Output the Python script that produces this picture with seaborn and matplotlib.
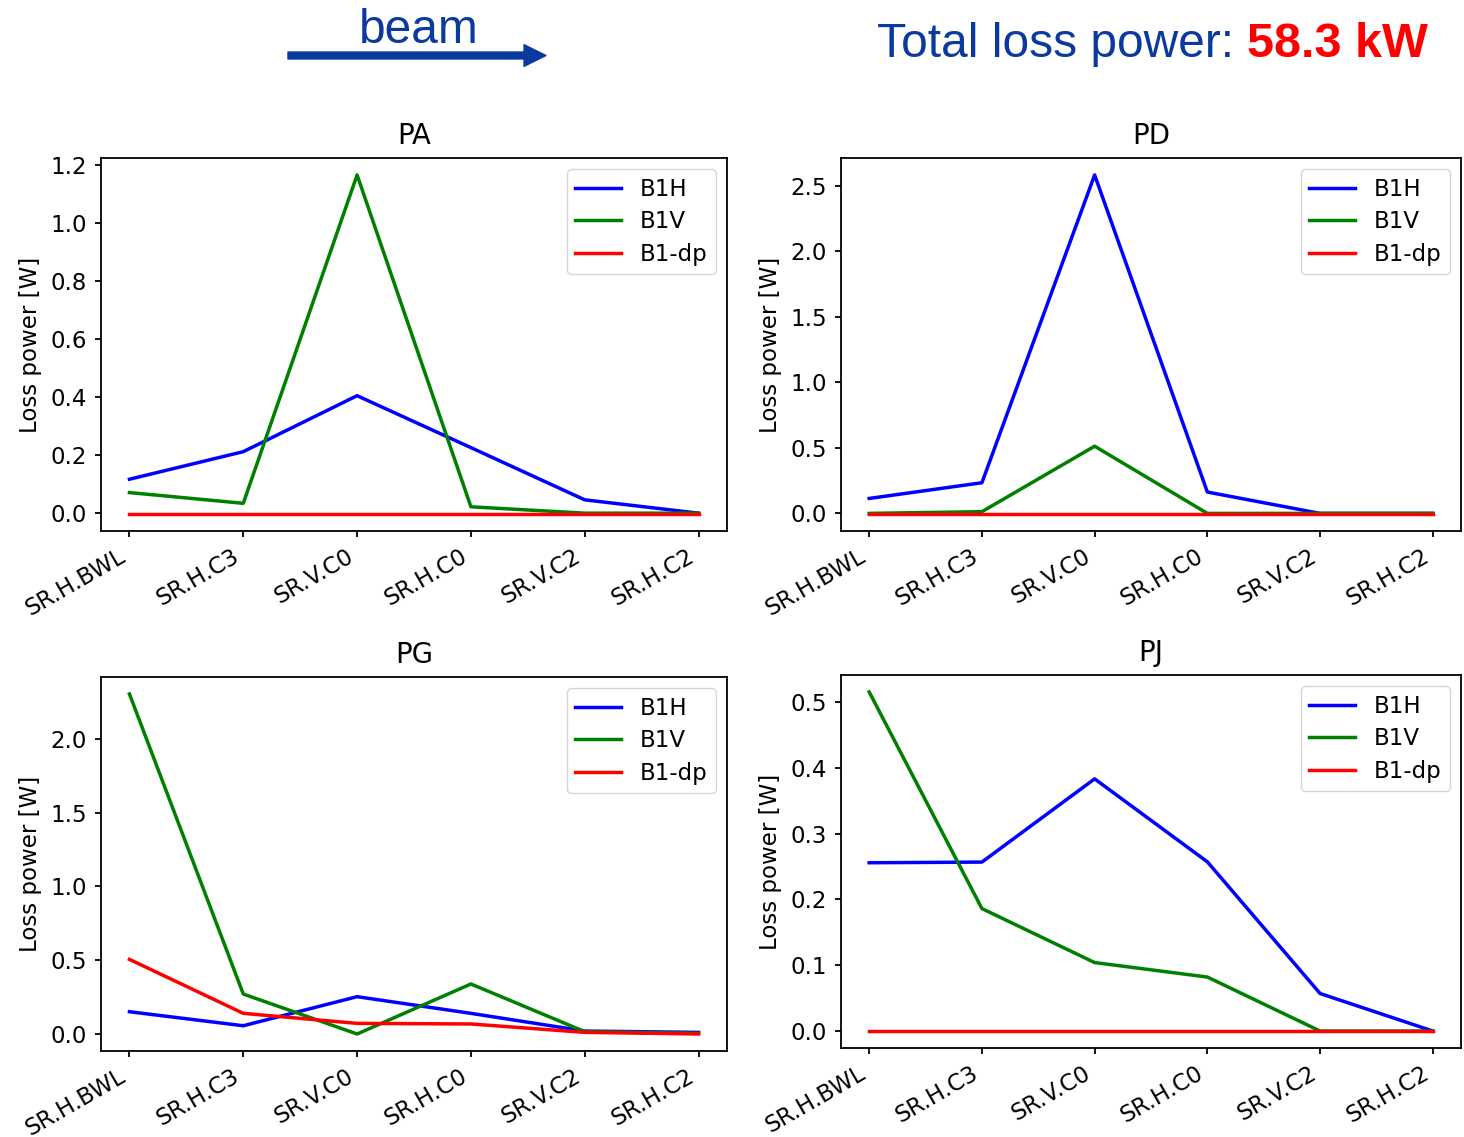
import matplotlib
matplotlib.use("Agg")
import matplotlib.pyplot as plt
from matplotlib.patches import FancyArrowPatch
import seaborn as sns
import pandas as pd

# ---------------- data ----------------
locations = ["SR.H.BWL", "SR.H.C3", "SR.V.C0", "SR.H.C0", "SR.V.C2", "SR.H.C2"]
series_names = ["B1H", "B1V", "B1-dp"]
series_colors = ["blue", "green", "red"]

pa_b1h = [0.117, 0.212, 0.405, 0.226, 0.046, 0.0]
pa_b1v = [0.071, 0.034, 1.166, 0.022, 0.0, 0.0]
pa_b1dp = [-0.003, -0.003, -0.003, -0.003, -0.003, -0.003]

pd_b1h = [0.114, 0.234, 2.584, 0.163, 0.0, 0.0]
pd_b1v = [0.0, 0.013, 0.513, 0.0, 0.0, 0.0]
pd_b1dp = [-0.005, -0.005, -0.005, -0.005, -0.005, -0.005]

pg_b1h = [0.151, 0.056, 0.253, 0.140, 0.020, 0.011]
pg_b1v = [2.305, 0.271, 0.0, 0.339, 0.016, 0.005]
pg_b1dp = [0.506, 0.140, 0.072, 0.068, 0.011, 0.0]

pj_b1h = [0.2556, 0.2566, 0.383, 0.257, 0.057, 0.0]
pj_b1v = [0.515, 0.186, 0.104, 0.082, 0.0, 0.0]
pj_b1dp = [0.0, 0.0, 0.0, 0.0, 0.0, 0.0]

panel_titles = ["PA", "PD", "PG", "PJ"]
panel_values = [
    (pa_b1h, pa_b1v, pa_b1dp),
    (pd_b1h, pd_b1v, pd_b1dp),
    (pg_b1h, pg_b1v, pg_b1dp),
    (pj_b1h, pj_b1v, pj_b1dp),
]

header_left = "beam"
header_right_a = "Total loss power:"
header_right_b = "58.3 kW"
ylabel_text = "Loss power [W]"

# ---------------- style ----------------
W, H = 1464, 1137
plt.rcParams.update({
    "font.size": 16.5,
    "axes.linewidth": 1.3,
    "xtick.major.width": 1.3,
    "ytick.major.width": 1.3,
    "xtick.major.size": 4.5,
    "ytick.major.size": 4.5,
    "xtick.major.pad": 5.5,
    "ytick.major.pad": 5.5,
    "lines.linewidth": 2.5,
})
plt.rcParams["font.family"] = ["DejaVu Sans"]

fig = plt.figure(figsize=(W / 100, H / 100), dpi=100)

def px_axes(l, t, r, b):
    return fig.add_axes([l / W, 1 - b / H, (r - l) / W, (b - t) / H])

boxes = [(101, 158, 727, 531), (841, 158, 1461, 531),
         (101, 677, 727, 1051), (841, 675, 1461, 1048)]

palette = dict(zip(series_names, series_colors))

for (box, title, vals) in zip(boxes, panel_titles, panel_values):
    ax = px_axes(*box)
    rows = []
    for name, v in zip(series_names, vals):
        for loc, y in zip(locations, v):
            rows.append({"loc": loc, "power": y, "series": name})
    df = pd.DataFrame(rows)
    sns.lineplot(data=df, x="loc", y="power", hue="series",
                 hue_order=series_names, palette=palette, sort=False,
                 linewidth=2.5, ax=ax, estimator=None)
    ax.set_title(title, fontsize=19.8, pad=10)
    ax.set_xlabel("")
    ax.set_ylabel(ylabel_text, fontsize=16.5, labelpad=6)
    plt.setp(ax.get_xticklabels(), rotation=30, ha="right")
    handles, labels = ax.get_legend_handles_labels()
    ax.legend(handles, labels, loc="upper right", fontsize=16.5,
              labelspacing=0.42, borderpad=0.36)
    ax.margins(x=0.05, y=0.05)

# ---------------- header ----------------
blue_txt = "#0a3aa0"
fig.text(419 / W, 1 - 43 / H, header_left, ha="center", va="baseline",
         fontsize=34.5, color=blue_txt, family=["Liberation Sans"])
arrow = FancyArrowPatch((288 / W, 1 - 55.5 / H), (546 / W, 1 - 55.5 / H),
                        transform=fig.transFigure,
                        arrowstyle="simple,head_length=1.58,head_width=1.56,tail_width=0.5",
                        mutation_scale=10, color=blue_txt, shrinkA=0, shrinkB=0)
fig.add_artist(arrow)
fig.text(877 / W, 1 - 57 / H, header_right_a, ha="left", va="baseline",
         fontsize=34.5, color=blue_txt, family=["Liberation Sans"])
fig.text(1428 / W, 1 - 57 / H, header_right_b, ha="right", va="baseline",
         fontsize=35, color="#ff0000", fontweight="bold", family=["Liberation Sans"])

fig.savefig("out.png", dpi=100)
